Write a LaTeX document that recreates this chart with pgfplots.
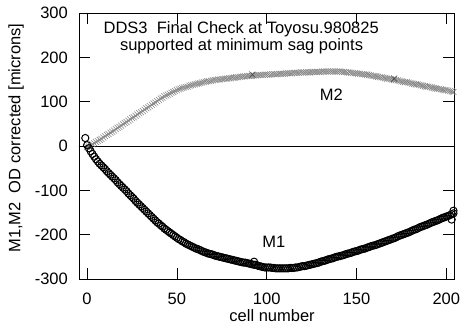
\documentclass[border=0pt]{standalone}
\usepackage{pgfplots}
\pgfplotsset{compat=1.18}
\usepackage{fontspec}
\setmainfont{Liberation Sans}
\begin{document}
\fontsize{16.5}{19}\selectfont
\begin{tikzpicture}
\useasboundingbox (-79pt,-47pt) rectangle (385pt,279pt);
\begin{axis}[
  at={(0,0)}, anchor=south west,
  scale only axis, width=375pt, height=266pt,
  xmin=-4.5, xmax=204.3, ymin=-300, ymax=300,
  xtick={0,50,100,150,200}, ytick={-300,-200,-100,0,100,200,300},
  tick align=inside, xtick pos=both, ytick pos=both,
  major tick length=11pt,
  tick style={black, line width=0.6pt},
  axis line style={black, line width=0.8pt},
  /pgf/number format/assume math mode=true,
  ticklabel style={font=\fontsize{16.5}{19}\selectfont},
  yticklabel style={inner sep=0pt, xshift=-11pt},
  xticklabel style={inner sep=0pt, yshift=-14pt},
  xlabel={cell number},
  ylabel={M1,M2~~OD corrected [microns]},
  xlabel style={at={(axis description cs:0.515,-0.139)}, anchor=center, inner sep=0pt},
  ylabel style={at={(axis description cs:-0.168,0.53)}, anchor=center, inner sep=0pt},
]
\addplot[black, line width=0.6pt] coordinates {(-10,0) (210,0)};
% M2
\addplot[only marks, mark=x, mark size=4.2pt, color=black!48, mark options={line width=0.55pt}] coordinates {
(0,-2) (1,-1) (2,1) (3,4) (4,6) (5,9) (6,11) (7,14) (8,16) (9,19)
(10,22) (11,25) (12,27) (13,30) (14,32) (15,35) (16,38) (17,41) (18,43) (19,46)
(20,49) (21,52) (22,54) (23,57) (24,60) (25,63) (26,65) (27,68) (28,71) (29,74)
(30,76) (31,79) (32,82) (33,85) (34,87) (35,90) (36,93) (37,96) (38,98) (39,101)
(40,104) (41,107) (42,109) (43,112) (44,114) (45,116) (46,118) (47,120) (48,122) (49,124)
(50,126) (51,128) (52,129) (53,131) (54,132) (55,133) (56,134) (57,136) (58,137) (59,138)
(60,139) (61,140) (62,141) (63,142) (64,143) (65,144) (66,145) (67,146) (68,146) (69,147)
(70,148) (71,149) (72,149) (73,150) (74,150) (75,151) (76,151) (77,152) (78,152) (79,153)
(80,153) (81,154) (82,154) (83,155) (84,155) (85,156) (86,156) (87,157) (88,157) (89,158)
(90,158) (91,158) (92,158) (93,159) (94,159) (95,160) (96,160) (97,160) (98,160) (99,161)
(100,161) (101,161) (102,161) (103,162) (104,162) (105,162) (106,162) (107,163) (108,163) (109,163)
(110,163) (111,164) (112,164) (113,164) (114,164) (115,165) (116,165) (117,165) (118,165) (119,166)
(120,166) (121,166) (122,166) (123,166) (124,166) (125,167) (126,167) (127,167) (128,167) (129,167)
(130,167) (131,168) (132,168) (133,168) (134,168) (135,168) (136,168) (137,168) (138,168) (139,168)
(140,168) (141,168) (142,167) (143,167) (144,167) (145,166) (146,166) (147,165) (148,165) (149,164)
(150,164) (151,163) (152,163) (153,162) (154,162) (155,161) (156,161) (157,160) (158,159) (159,158)
(160,158) (161,157) (162,156) (163,155) (164,155) (165,154) (166,153) (167,152) (168,152) (169,151)
(170,150) (171,149) (172,149) (173,148) (174,147) (175,146) (176,145) (177,144) (178,144) (179,143)
(180,142) (181,141) (182,140) (183,139) (184,139) (185,138) (186,137) (187,136) (188,135) (189,134)
(190,134) (191,133) (192,132) (193,131) (194,130) (195,129) (196,129) (197,128) (198,127) (199,126)
(200,126) (201,125) (202,124) (203,123) (204,122)
};
\addplot[only marks, mark=x, mark size=4.2pt, color=black!75, mark options={line width=0.55pt}] coordinates {
(171,152) (92,161)
};
% M1
\addplot[only marks, mark=o, mark size=3.6pt, color=black, mark options={line width=1pt}] coordinates {
(-1,18) (0,2) (1,-5) (2,-12) (3,-18) (4,-24) (5,-30) (6,-35) (7,-40) (8,-44) (9,-48)
(10,-52) (11,-57) (12,-61) (13,-65) (14,-69) (15,-73) (16,-77) (17,-82) (18,-86) (19,-90)
(20,-94) (21,-98) (22,-102) (23,-107) (24,-111) (25,-115) (26,-119) (27,-124) (28,-128) (29,-132)
(30,-136) (31,-140) (32,-144) (33,-148) (34,-152) (35,-156) (36,-160) (37,-164) (38,-168) (39,-172)
(40,-175) (41,-179) (42,-182) (43,-186) (44,-189) (45,-192) (46,-195) (47,-198) (48,-201) (49,-204)
(50,-207) (51,-210) (52,-212) (53,-215) (54,-217) (55,-220) (56,-222) (57,-224) (58,-226) (59,-228)
(60,-230) (61,-232) (62,-233) (63,-235) (64,-237) (65,-239) (66,-240) (67,-242) (68,-243) (69,-244)
(70,-245) (71,-247) (72,-248) (73,-249) (74,-250) (75,-251) (76,-252) (77,-253) (78,-254) (79,-255)
(80,-256) (81,-257) (82,-258) (83,-259) (84,-260) (85,-261) (86,-262) (87,-263) (88,-263) (89,-264)
(90,-265) (91,-266) (92,-267) (93,-261) (93,-268) (94,-268) (95,-270) (96,-271) (97,-272) (98,-273) (99,-274)
(100,-274) (101,-274) (102,-274) (103,-275) (104,-275) (105,-276) (106,-276) (107,-276) (108,-276) (109,-276)
(110,-276) (111,-276) (112,-276) (113,-275) (114,-275) (115,-275) (116,-274) (117,-274) (118,-273) (119,-272)
(120,-271) (121,-271) (122,-270) (123,-269) (124,-268) (125,-267) (126,-266) (127,-265) (128,-264) (129,-263)
(130,-261) (131,-260) (132,-259) (133,-258) (134,-256) (135,-255) (136,-254) (137,-253) (138,-251) (139,-250)
(140,-249) (141,-248) (142,-247) (143,-246) (144,-244) (145,-243) (146,-242) (147,-241) (148,-239) (149,-238)
(150,-237) (151,-236) (152,-234) (153,-233) (154,-232) (155,-231) (156,-229) (157,-228) (158,-226) (159,-225)
(160,-224) (161,-223) (162,-221) (163,-220) (164,-218) (165,-217) (166,-215) (167,-214) (168,-212) (169,-211)
(170,-209) (171,-208) (172,-206) (173,-204) (174,-202) (175,-201) (176,-199) (177,-198) (178,-196) (179,-195)
(180,-193) (181,-191) (182,-189) (183,-188) (184,-186) (185,-184) (186,-182) (187,-181) (188,-179) (189,-178)
(190,-176) (191,-174) (192,-172) (193,-171) (194,-169) (195,-168) (196,-166) (197,-164) (198,-162) (199,-161)
(200,-159) (201,-158) (202,-156) (203,-154) (203,-166) (204,-152) (204,-146)
};
\node at (axis cs:85.8,264) {DDS3~~Final Check at Toyosu.980825};
\node at (axis cs:86,225) {supported at minimum sag points};
\node at (axis cs:136,115) {M2};
\node at (axis cs:104,-216) {M1};
\end{axis}
\end{tikzpicture}
\end{document}
